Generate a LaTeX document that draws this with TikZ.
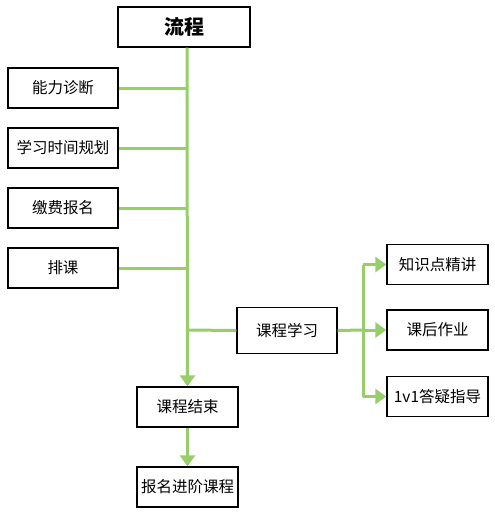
\documentclass[tikz,border=0pt]{standalone}
\usepackage{fontspec}
\setmainfont{Noto Sans CJK SC}
\usetikzlibrary{arrows.meta}
\definecolor{lg}{RGB}{150,206,105}
\begin{document}
\begin{tikzpicture}[x=1pt,y=-1pt,
  box/.style={draw=black,line width=1.3pt,fill=white,inner sep=0pt,font=\fontsize{15.5}{17}\selectfont},
  conn/.style={draw=lg,line width=3pt},
  arr/.style={conn,-{Triangle[width=15pt,length=11pt]}}]
\useasboundingbox (0,0) rectangle (495,515);
\node[box,minimum width=132pt,minimum height=40pt,font=\fontsize{20}{22}\selectfont\bfseries] (lc) at (184,27) {流程};
\node[box,minimum width=110pt,minimum height=40pt] (a1) at (63,88) {能力诊断};
\node[box,minimum width=110pt,minimum height=40pt] (a2) at (63,148) {学习时间规划};
\node[box,minimum width=110pt,minimum height=40pt] (a3) at (63,208) {缴费报名};
\node[box,minimum width=110pt,minimum height=40pt] (a4) at (63,268) {排课};
\node[box,minimum width=100pt,minimum height=46pt] (xx) at (287,330.5) {课程学习};
\node[box,minimum width=101pt,minimum height=40pt] (js) at (187.5,407) {课程结束};
\node[box,minimum width=101pt,minimum height=40pt] (bm) at (187.5,487) {报名进阶课程};
\node[box,minimum width=101pt,minimum height=40pt] (r1) at (437.5,264.5) {知识点精讲};
\node[box,minimum width=101pt,minimum height=40pt] (r2) at (437.5,330) {课后作业};
\node[box,minimum width=101pt,minimum height=40pt] (r3) at (437.5,396.5) {1v1答疑指导};
\coordinate (t0) at (187,47.7);
\coordinate (b1) at (187,88);
\coordinate (b2) at (187,148);
\coordinate (b3) at (187,208);
\coordinate (b4) at (187,268);
\coordinate (b5) at (187,330);
\coordinate (v1) at (363,264.5);
\coordinate (v2) at (363,330);
\coordinate (v3) at (363,396.5);
\draw[arr] (t0) -- (js.north);
\draw[conn] (a1.east) -- (b1);
\draw[conn] (a2.east) -- (b2);
\draw[conn] (a3.east) -- (b3);
\draw[conn] (a4.east) -- (b4);
\draw[conn] (b5) -- (xx.west);
\draw[arr] (js.south) -- (bm.north);
\draw[conn] (xx.east) -- (v2);
\draw[conn] (v1) -- (v3);
\draw[arr] (v1) -- (r1.west);
\draw[arr] (v2) -- (r2.west);
\draw[arr] (v3) -- (r3.west);
\end{tikzpicture}
\end{document}
